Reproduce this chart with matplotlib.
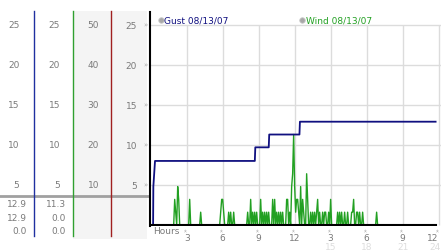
import matplotlib

matplotlib.use("Agg")
import matplotlib.pyplot as plt
import matplotlib.transforms as mtransforms
import numpy as np

# ---- data -------------------------------------------------------------
gust_hours = [0.0, 0.2, 0.22, 0.36, 8.68, 8.72, 9.84, 9.88, 12.4, 12.44, 23.75]
gust_mph = [0.0, 0.0, 4.8, 8.0, 8.0, 9.7, 9.7, 11.3, 11.3, 12.9, 12.9]

wind_times = [
    "02:00", "02:05", "02:15", "02:20", "03:15", "04:10", "05:50", "05:55",
    "06:00", "06:05", "06:30", "06:40", "06:55", "08:05", "08:20", "08:30",
    "08:40", "08:50", "09:10", "09:20", "09:30", "09:40", "09:50", "10:10",
    "10:20", "10:30", "10:40", "10:50", "11:00", "11:20", "11:25", "11:35",
    "11:45", "11:50", "11:55", "12:00", "12:05", "12:10", "12:15", "12:20",
    "12:30", "12:40", "12:45", "13:00", "13:05", "13:20", "13:30", "13:40",
    "13:50", "13:55", "14:05", "14:20", "14:30", "14:35", "14:50", "15:00",
    "15:35", "15:45", "15:55", "16:10", "16:25", "16:45", "16:50", "16:55",
    "17:10", "17:15", "17:25", "17:40", "18:50",
]
wind_mph = [
    3.2, 1.6, 4.8, 3.2, 3.2, 1.6, 1.6, 3.2,
    3.2, 1.6, 1.6, 1.6, 1.6, 1.6, 3.2, 1.6,
    1.6, 1.6, 3.2, 1.6, 1.6, 1.6, 1.6, 3.2,
    3.2, 1.6, 1.6, 1.6, 1.6, 3.2, 3.2, 1.6,
    4.8, 6.4, 11.3, 4.8, 1.6, 3.2, 3.2, 1.6,
    4.8, 3.2, 1.6, 6.4, 3.2, 1.6, 1.6, 1.6,
    1.6, 3.2, 1.6, 1.6, 1.6, 1.6, 1.6, 3.2,
    1.6, 1.6, 1.6, 1.6, 1.6, 1.6, 1.6, 3.2,
    1.6, 1.6, 1.6, 1.6, 1.6,
]
record_end = "23:45"

y_ticks = [5, 10, 15, 20, 25]
scale_gust = ["5", "10", "15", "20", "25"]
scale_wind = ["5", "10", "15", "20", "25"]
scale_wind2 = ["10", "20", "30", "40", "50"]
x_ticks = [3, 6, 9, 12, 15, 18, 21, 24]
x_labels = ["3", "6", "9", "12", "3", "6", "9", "12"]
x_labels2 = ["15", "18", "21", "24"]
gust_stats = ["12.9", "12.9", "0.0"]
wind_stats = ["11.3", "0.0", "0.0"]


def to_hours(hhmm: str) -> float:
    h, m = hhmm.split(":")
    return int(h) + int(m) / 60.0


# 5 minute record, calm (0) where nothing was logged
n_slots = int(round(to_hours(record_end) * 12)) + 1
wind_hours = np.arange(n_slots) / 12.0
wind_series = np.zeros(n_slots)
for t, v in zip(wind_times, wind_mph):
    wind_series[int(round(to_hours(t) * 12))] = v

# ---- figure -----------------------------------------------------------
W, H = 442, 253
fig = plt.figure(figsize=(W / 100, H / 100), dpi=100)
fig.patch.set_facecolor("white")

TXT = "#7a7a7a"
GRID = "#dcdcdc"
NAVY = "#101080"
GREEN = "#22a022"
FS = 6.5

# overlay in pixel coordinates for the left scale panel
ov = fig.add_axes([0, 0, 1, 1], zorder=0)
ov.set_xlim(0, W)
ov.set_ylim(H, 0)
ov.axis("off")

left_px, right_px, top_px, bot_px = 149.5, 441.0, 13.0, 227.0
ax = fig.add_axes(
    [left_px / W, 1 - bot_px / H, (right_px - left_px) / W, (bot_px - top_px) / H],
    zorder=2,
)
ax.patch.set_alpha(0)
ax.set_xlim(-0.1, 24.2)
ax.set_ylim(-0.125, 26.6)

# left panel backgrounds and divider lines
ov.axvspan(72.5, 147, ymin=1 - 240 / H, ymax=1 - 12 / H, color="#f4f4f4", lw=0)
ov.axhline(197, xmin=0, xmax=148 / W, color="#a0a0a0", lw=2)
for xp, col in [(33.5, "#2030a0"), (72.5, "#30a030"), (111.3, "#a02020")]:
    ov.axvline(xp, ymin=1 - 237 / H, ymax=1 - 12 / H, color=col, lw=1)

yblend = mtransforms.blended_transform_factory(ov.transData, ax.transData)
for yv, a, b, c in zip(y_ticks, scale_gust, scale_wind, scale_wind2):
    ov.text(19.5, yv, a, transform=yblend, ha="right", va="center", fontsize=FS, color=TXT)
    ov.text(60, yv, b, transform=yblend, ha="right", va="center", fontsize=FS, color=TXT)
    ov.text(99, yv, c, transform=yblend, ha="right", va="center", fontsize=FS, color=TXT)
    ov.text(145.5, yv, "»", transform=yblend, ha="center", va="center", fontsize=5, color="#aaaaaa")

for yp, a, b in zip([205, 219, 232], gust_stats, wind_stats):
    ov.text(27, yp, a, ha="right", va="center", fontsize=FS, color=TXT)
    ov.text(66, yp, b, ha="right", va="center", fontsize=FS, color=TXT)

# main chart
ax.grid(axis="y", color=GRID, lw=1)
ax.set_axisbelow(True)
ax.vlines(x_ticks, 0, 25, color=GRID, lw=1, zorder=0)
for s in ["top", "right", "bottom"]:
    ax.spines[s].set_visible(False)
ax.spines["left"].set_linewidth(1.5)
ax.spines["left"].set_color("black")

ax.plot(wind_hours, wind_series, color=GREEN, lw=1, zorder=3)
ax.plot(gust_hours, gust_mph, color=NAVY, lw=1.3, zorder=4)
ax.axhline(0, xmin=0, xmax=(23.75 + 0.1) / 24.3, color="black", lw=1.5, zorder=5)

ax.set_yticks(y_ticks)
ax.set_yticklabels([str(v) for v in y_ticks])
ax.tick_params(axis="y", length=0, pad=9, labelsize=FS, labelcolor=TXT)
ax.set_xticks(x_ticks)
ax.set_xticklabels(x_labels)
ax.tick_params(axis="x", length=0, pad=5, labelsize=FS, labelcolor=TXT)
ax.get_xticklabels()[-1].set_horizontalalignment("right")
ax.get_xticklabels()[-1].set_x(24.2)

xblend = mtransforms.blended_transform_factory(ax.transData, ov.transData)
for xv in x_ticks:
    ov.text(xv, 230.5, "»", transform=xblend, ha="center", va="center",
            fontsize=4.5, color="#999999", rotation=90)
for xv, lab in zip(x_ticks[4:], x_labels2):
    ha = "right" if xv == x_ticks[-1] else "center"
    xpos = 24.15 if xv == x_ticks[-1] else xv
    ov.text(xpos, 247.5, lab, transform=xblend, ha=ha, va="center", fontsize=FS, color="#dddddd")
ov.text(153, 232, "Hours", ha="left", va="center", fontsize=FS, color=TXT)

# legend row
ov.plot([160.7], [20.5], "o", ms=4, mfc="#a8a8a8", mec="#cccccc", mew=0.6)
ov.text(164.5, 20.5, "Gust 08/13/07", ha="left", va="center", fontsize=FS, color=NAVY)
ov.plot([302], [20.5], "o", ms=4, mfc="#a8a8a8", mec="#cccccc", mew=0.6)
ov.text(305.5, 20.5, "Wind 08/13/07", ha="left", va="center", fontsize=FS, color=GREEN)

fig.savefig("out.png", dpi=100)
